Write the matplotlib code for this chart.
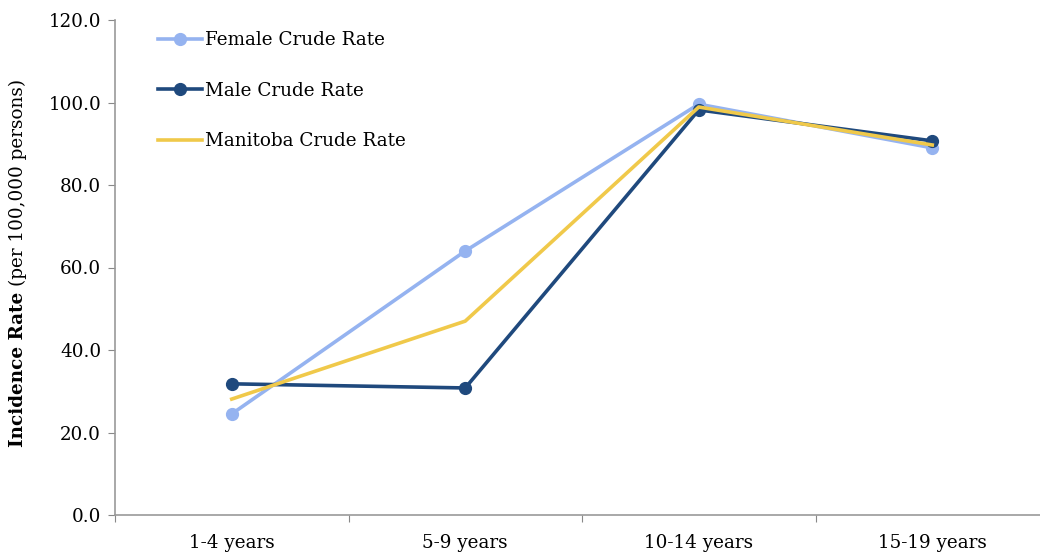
import numpy as np
import matplotlib.pyplot as plt

# === Data ===
age_groups = ["1-4 years", "5-9 years", "10-14 years", "15-19 years"]
female_rate = [24.5, 64.0, 99.6, 89.0]
male_rate = [31.8, 30.8, 98.2, 90.7]
manitoba_rate = [28.1, 47.0, 98.9, 89.7]

plt.rcParams['font.family'] = ['DejaVu Serif']
FS = 13.2

fig = plt.figure(figsize=(10.4, 5.57), dpi=100)
ax = fig.add_axes([115 / 1040, 42 / 557, 934 / 1040, 495 / 557])

x = np.arange(len(age_groups))
ax.plot(x, female_rate, color='#95b3f0', lw=2.6, marker='o', ms=8.5, label="Female Crude Rate")
ax.plot(x, male_rate, color='#1f497d', lw=2.6, marker='o', ms=8.5, label="Male Crude Rate")
ax.plot(x, manitoba_rate, color='#f0c94a', lw=2.6, label="Manitoba Crude Rate")

ax.set_xlim(-0.5, len(age_groups) - 0.5)
ax.set_ylim(0, 120)
ax.set_yticks(np.arange(0, 121, 20))
ax.set_yticklabels([f"{v:.1f}" for v in np.arange(0, 121, 20)], fontsize=FS)

# category labels between boundary ticks
ax.set_xticks(np.arange(-0.5, len(age_groups), 1.0))
ax.set_xticklabels([])
ax.set_xticks(x, minor=True)
ax.set_xticklabels(age_groups, minor=True, fontsize=FS)
ax.tick_params(axis='x', which='minor', length=0, pad=14)
ax.tick_params(axis='x', which='major', length=5, color='#888888')
ax.tick_params(axis='y', length=5, color='#888888', pad=5)

for s in ['top', 'right']:
    ax.spines[s].set_visible(False)
for s in ['left', 'bottom']:
    ax.spines[s].set_color('#999999')
    ax.spines[s].set_linewidth(1.2)

# y label: bold part + normal part, centred on the axis
fig.canvas.draw()
r = fig.canvas.get_renderer()
t1 = fig.text(18 / 1040, 0, "Incidence Rate ", rotation=90, fontsize=FS,
              fontweight='bold', ha='center', va='bottom')
t2 = fig.text(18 / 1040, 0, "(per 100,000 persons)", rotation=90, fontsize=FS,
              ha='center', va='bottom')
h1 = t1.get_window_extent(r).height
h2 = t2.get_window_extent(r).height
yc = 557 - 263
start = yc - (h1 + h2) / 2
t1.set_y(start / 557)
t2.set_y((start + h1) / 557)

ax.legend(loc='upper left', bbox_to_anchor=(0.034, 1.0), frameon=False, fontsize=FS,
          handlelength=2.4, handletextpad=0.2, labelspacing=1.78, borderaxespad=0.2)

fig.savefig("out.png", dpi=100)
